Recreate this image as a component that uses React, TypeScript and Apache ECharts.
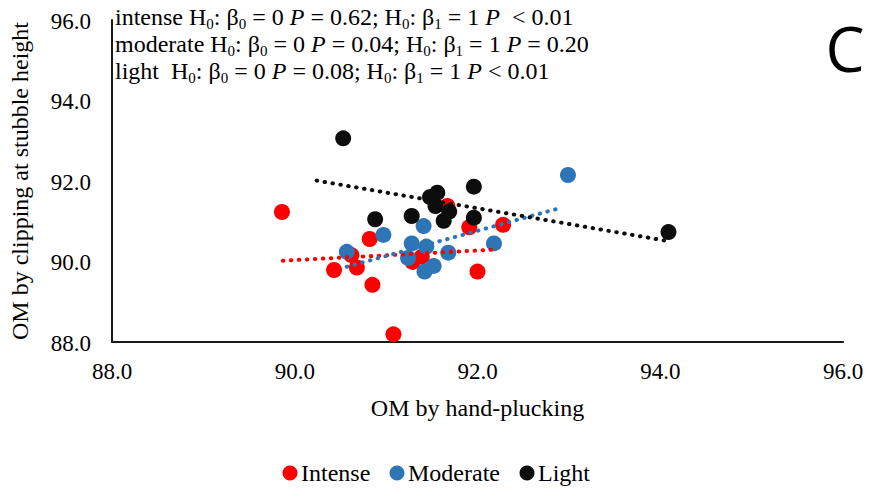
import React, { useEffect, useRef } from "react";
import * as echarts from "echarts";

const seriesNames = ["Intense", "Moderate", "Light"];
const seriesColors = ["#FF0000", "#2E75B6", "#0D0D0D"];

const xTicks = [88, 90, 92, 94, 96];
const yTicks = [88, 90, 92, 94, 96];

const intenseX = [89.86, 91.67, 91.91, 92.28, 90.82, 90.62, 90.43, 90.68, 90.85, 91.29, 91.39, 92.0, 91.08];
const intenseY = [91.23, 91.38, 90.85, 90.91, 90.56, 90.16, 89.79, 89.85, 89.42, 89.99, 90.12, 89.75, 88.19];

const moderateX = [92.99, 90.57, 90.97, 91.41, 91.28, 91.44, 91.24, 91.68, 92.18, 91.42, 91.52];
const moderateY = [92.15, 90.24, 90.66, 90.88, 90.45, 90.37, 90.09, 90.22, 90.45, 89.75, 89.89];

const lightX = [90.53, 90.88, 91.28, 91.48, 91.56, 91.54, 91.69, 91.63, 91.96, 91.96, 94.09];
const lightY = [93.06, 91.05, 91.13, 91.6, 91.71, 91.38, 91.24, 91.01, 91.86, 91.09, 90.73];

const intenseTrendX = [89.87, 92.22];
const intenseTrendY = [90.02, 90.3];
const moderateTrendX = [90.57, 92.92];
const moderateTrendY = [89.87, 91.34];
const lightTrendX = [90.24, 94.08];
const lightTrendY = [92.01, 90.51];

const annotationLines = [
  "intense H{s|0}: β{s|0} = 0 {i|P} = 0.62; H{s|0}: β{s|1} = 1 {i|P}\u00A0\u00A0< 0.01",
  "moderate H{s|0}: β{s|0} = 0 {i|P} = 0.04; H{s|0}: β{s|1} = 1 {i|P} = 0.20",
  "light\u00A0\u00A0H{s|0}: β{s|0} = 0 {i|P} = 0.08; H{s|0}: β{s|1} = 1 {i|P} < 0.01",
];
const panelLabel = "C";
const xTitle = "OM by hand-plucking";
const yTitle = "OM by clipping at stubble height";

const zip = (xs: number[], ys: number[]) => xs.map((x, i) => [x, ys[i]]);

const SERIF = "Liberation Serif";

// legend layout (icon centre x)
const legendIconX = [290, 397, 527];
const legendY = 473;

export default function App() {
  const ref = useRef<HTMLDivElement>(null);
  useEffect(() => {
    if (!ref.current) return;
    const chart = echarts.init(ref.current, undefined, { renderer: "svg" });
    const scatterData = [zip(intenseX, intenseY), zip(moderateX, moderateY), zip(lightX, lightY)];
    const trendData = [
      zip(intenseTrendX, intenseTrendY),
      zip(moderateTrendX, moderateTrendY),
      zip(lightTrendX, lightTrendY),
    ];
    const axisCommon = {
      type: "value" as const,
      min: 88,
      max: 96,
      interval: 2,
      splitLine: { show: false },
      axisTick: { show: false },
      axisLabel: { show: false },
      axisLine: { show: true, lineStyle: { color: "#1a1a1a", width: 2 } },
      nameLocation: "middle" as const,
      nameTextStyle: { fontFamily: SERIF, fontSize: 24, color: "#000" },
    };
    chart.setOption({
      animation: false,
      backgroundColor: "#fff",
      textStyle: { fontFamily: SERIF, color: "#000" },
      grid: { left: 103, right: 32, top: 20, bottom: 155, containLabel: false },
      xAxis: { ...axisCommon, name: xTitle, nameGap: 54 },
      yAxis: { ...axisCommon, name: yTitle, nameGap: 80 },
      series: [
        ...seriesNames.map((name, i) => ({
          name,
          type: "scatter",
          data: scatterData[i],
          symbol: "circle",
          symbolSize: 16,
          itemStyle: { color: seriesColors[i], opacity: 1 },
          z: 2,
        })),
        ...seriesNames.map((name, i) => ({
          name: name + " trend",
          type: "line",
          data: trendData[i],
          symbol: "none",
          lineStyle: { color: seriesColors[i], width: 4, type: [0.5, 7.5], cap: "round" },
          z: 3,
        })),
      ],
    });

    const xPix = xTicks.map((v) => chart.convertToPixel({ xAxisIndex: 0 }, v) as number);
    const yPix = yTicks.map((v) => chart.convertToPixel({ yAxisIndex: 0 }, v) as number);
    const xAxisPix = chart.convertToPixel({ yAxisIndex: 0 }, 88) as number;
    const yAxisPix = chart.convertToPixel({ xAxisIndex: 0 }, 88) as number;

    const richText = (text: string, x: number, y: number, align: string, size: number) => ({
      type: "text",
      x,
      y,
      z: 10,
      style: {
        text: `{t|${text}}`,
        fontFamily: SERIF,
        fontSize: size,
        fill: "#000",
        align,
        verticalAlign: "middle",
        lineHeight: 27,
        rich: { t: { fontFamily: SERIF, fontSize: size, fill: "#000" } },
      },
    });

    chart.setOption({
      graphic: [
        ...xTicks.map((v, i) => richText(v.toFixed(1), xPix[i], xAxisPix + 29, "center", 23)),
        ...yTicks.map((v, i) => richText(v.toFixed(1), yAxisPix - 21, yPix[i] + 1, "right", 23)),
        ...seriesNames.map((name, i) => ({
          type: "circle",
          z: 10,
          shape: { cx: legendIconX[i], cy: legendY, r: 7.5 },
          style: { fill: seriesColors[i] },
        })),
        ...seriesNames.map((name, i) => richText(name, legendIconX[i] + 11, legendY, "left", 24)),
        ...annotationLines.map((t, i) => ({
          type: "text",
          x: 115,
          y: 17 + i * 27,
          z: 10,
          style: {
            text: t,
            fontFamily: SERIF,
            fontSize: 24,
            fill: "#000",
            verticalAlign: "middle",
            lineHeight: 27,
            rich: {
              s: { fontFamily: SERIF, fontSize: 15, fill: "#000", padding: [14, 0, 0, 0] },
              i: { fontFamily: SERIF, fontSize: 24, fontStyle: "italic", fill: "#000" },
            },
          },
        })),
        {
          type: "text",
          x: 845,
          y: 48,
          z: 10,
          style: {
            text: panelLabel,
            fontFamily: "Open Sans",
            fontSize: 62,
            fill: "#000",
            align: "center",
            verticalAlign: "middle",
          },
        },
      ],
    });
    return () => chart.dispose();
  }, []);
  return (
    <div
      ref={ref}
      style={{ position: "fixed", left: 0, top: 0, width: 875, height: 497 }}
    />
  );
}
